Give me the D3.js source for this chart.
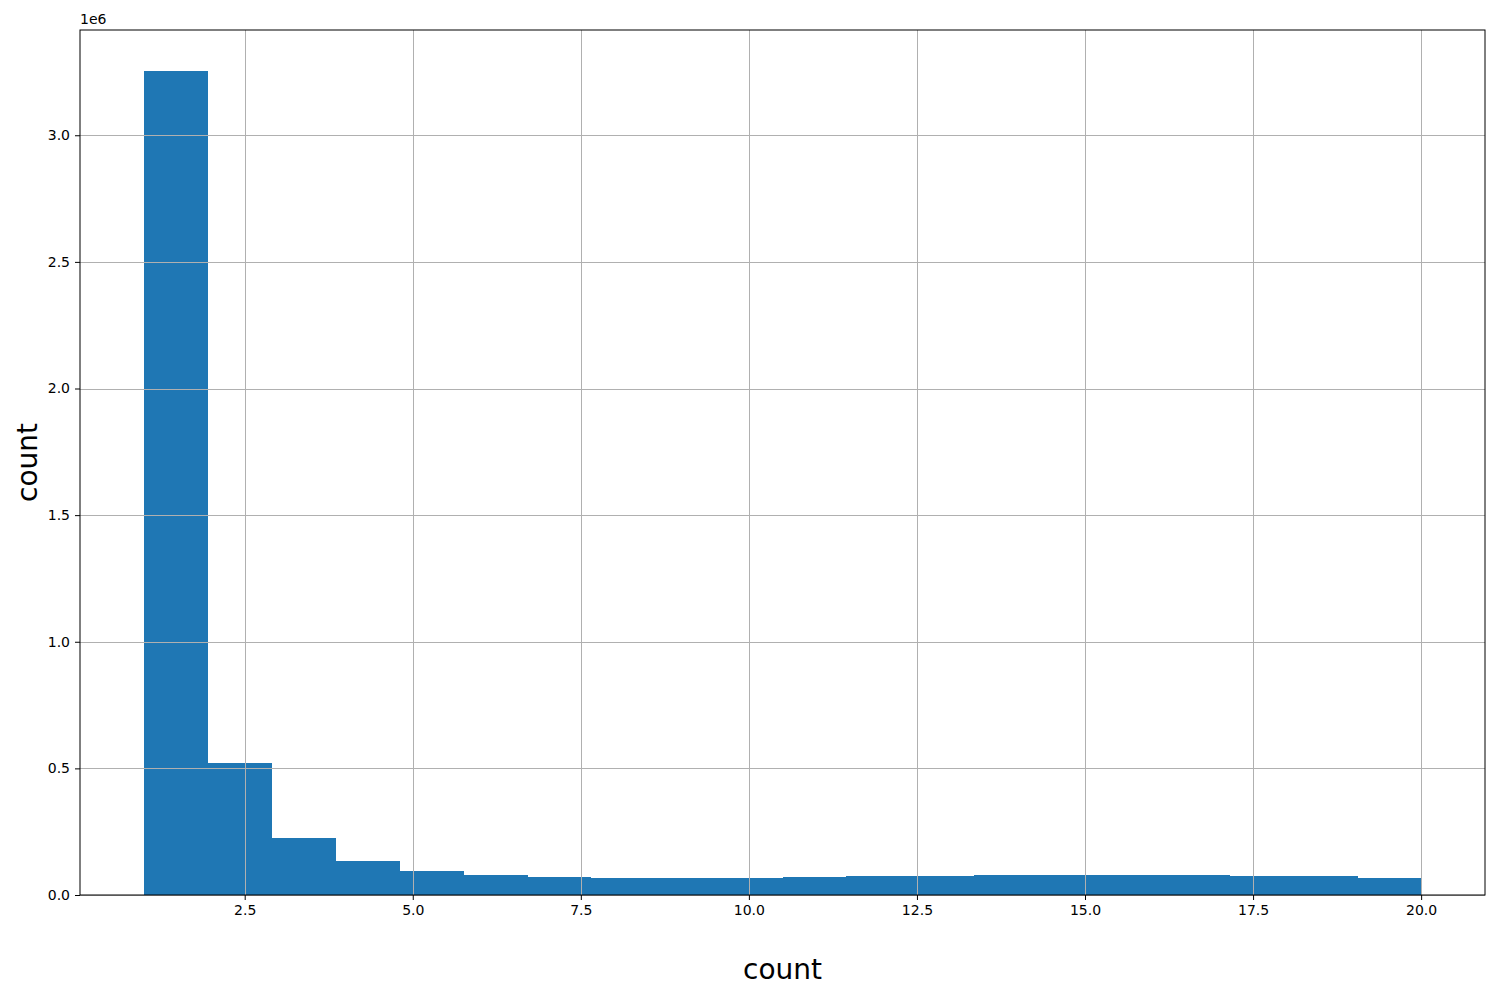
<!DOCTYPE html>
<html>
<head>
<meta charset="utf-8">
<script src="https://cdn.jsdelivr.net/npm/d3@7"></script>
<style>
  body { margin: 0; background: #fff; }
  svg { font-family: "DejaVu Sans", sans-serif; }
</style>
</head>
<body>
<div id="chart"></div>
<script>
// histogram: 20 bins between 1 and 20
const binStart = 1;
const binEnd = 20;
const binCounts = [3253000, 521000, 225000, 134000, 95000, 79000, 72000, 67000, 67000, 67000,
	71000, 76000, 76000, 80000, 80000, 80000, 80000, 76000, 76000, 68000];
const xTickValues = [2.5, 5.0, 7.5, 10.0, 12.5, 15.0, 17.5, 20.0];
const yTickValues = [0, 500000, 1000000, 1500000, 2000000, 2500000, 3000000];

let width = 1500;
let height = 1000;
let margin = { top: 30, right: 15, bottom: 105, left: 80 };

let binWidth = (binEnd - binStart) / binCounts.length;
let bins = binCounts.map((c, i) => ({ x0: binStart + i * binWidth, x1: binStart + (i + 1) * binWidth, count: c }));

let pad = (binEnd - binStart) * 0.05;
let xScale = d3.scaleLinear()
	.domain([binStart - pad, binEnd + pad])
	.range([margin.left, width - margin.right]);

let yScale = d3.scaleLinear()
	.domain([0, d3.max(binCounts) * 1.05])
	.range([height - margin.bottom, margin.top]);

let svg = d3.select('#chart')
	.append('svg')
	.attr('width', width)
	.attr('height', height);

// bars
svg.append('g')
	.attr('shape-rendering', 'crispEdges')
	.selectAll('rect')
	.data(bins)
	.enter()
	.append('rect')
	.attr('x', d => xScale(d.x0))
	.attr('width', d => xScale(d.x1) - xScale(d.x0) + 0.5)
	.attr('y', d => yScale(d.count))
	.attr('height', d => yScale(0) - yScale(d.count))
	.attr('fill', '#1f77b4');

// grid lines (drawn over the bars, like the original)
let grid = svg.append('g').attr('stroke', '#b0b0b0').attr('stroke-width', 1);
grid.selectAll('.vgrid')
	.data(xTickValues)
	.enter()
	.append('line')
	.attr('x1', d => Math.round(xScale(d)) + 0.5)
	.attr('x2', d => Math.round(xScale(d)) + 0.5)
	.attr('y1', margin.top)
	.attr('y2', height - margin.bottom);
grid.selectAll('.hgrid')
	.data(yTickValues)
	.enter()
	.append('line')
	.attr('y1', d => Math.round(yScale(d)) + 0.5)
	.attr('y2', d => Math.round(yScale(d)) + 0.5)
	.attr('x1', margin.left)
	.attr('x2', width - margin.right);

// axes
let xAxis = svg.append('g')
	.attr('transform', `translate(0,${height - margin.bottom})`)
	.call(d3.axisBottom(xScale).tickValues(xTickValues).tickFormat(d3.format('.1f')).tickSize(5).tickPadding(5));

let yAxis = svg.append('g')
	.attr('transform', `translate(${margin.left},0)`)
	.call(d3.axisLeft(yScale).tickValues(yTickValues).tickFormat(d => (d / 1e6).toFixed(1)).tickSize(5).tickPadding(5));

[xAxis, yAxis].forEach(a => {
	a.select('.domain').remove();
	a.selectAll('text').attr('font-size', 14).attr('font-family', '"DejaVu Sans", sans-serif').attr('fill', '#000');
	a.selectAll('line').attr('stroke', '#000');
});

// frame
svg.append('rect')
	.attr('x', margin.left)
	.attr('y', margin.top)
	.attr('width', width - margin.left - margin.right)
	.attr('height', height - margin.top - margin.bottom)
	.attr('fill', 'none')
	.attr('stroke', '#000')
	.attr('stroke-width', 1);

// offset text
svg.append('text')
	.attr('x', margin.left)
	.attr('y', margin.top - 6)
	.attr('font-size', 14)
	.text('1e6');

// labels
svg.append('text')
	.attr('x', (margin.left + width - margin.right) / 2)
	.attr('y', 979)
	.style('text-anchor', 'middle')
	.attr('font-size', 28)
	.text('count');

svg.append('text')
	.attr('transform', 'rotate(-90)')
	.attr('x', -(margin.top + height - margin.bottom) / 2)
	.attr('y', 37)
	.style('text-anchor', 'middle')
	.attr('font-size', 28)
	.text('count');
</script>
</body>
</html>
